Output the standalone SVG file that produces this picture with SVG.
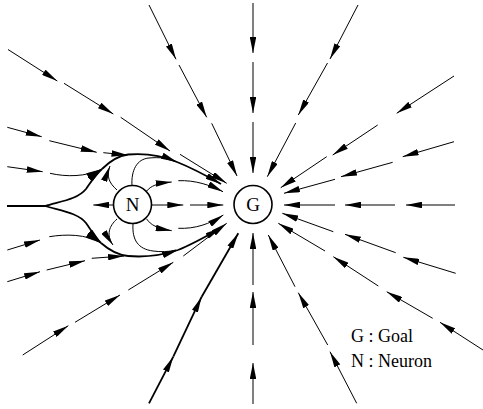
<svg xmlns="http://www.w3.org/2000/svg" width="483" height="409" viewBox="0 0 483 409">
<style>
.t{fill:none;stroke:#000;stroke-width:1;marker-end:url(#a)}
.n{fill:none;stroke:#000;stroke-width:1}
.k{fill:none;stroke:#000;stroke-width:1.8;marker-end:url(#a)}
.kn{fill:none;stroke:#000;stroke-width:1.8}
.c{fill:#fff;stroke:#000;stroke-width:1.6}
.lb{font-family:"Liberation Serif","Times New Roman",serif;font-size:19px;text-anchor:middle}
.lg{font-family:"Liberation Serif","Times New Roman",serif;font-size:18px}
</style>
<defs>
<marker id="a" markerUnits="userSpaceOnUse" viewBox="0 0 16 6.5" markerWidth="16" markerHeight="6.5" refX="16" refY="3.25" orient="auto">
<path d="M0,0 L16,3.25 L0,6.5 z" fill="#000"/>
</marker>
</defs>
<rect width="483" height="409" fill="#fff"/>
<g id="connectors">
<path class="t" d="M253,3 L253,53"/>
<path class="t" d="M253,62 L253,113"/>
<path class="t" d="M253,122 L253,173"/>
<path class="t" d="M358,5 L330,59"/>
<path class="t" d="M327.5,63 L298.3,115"/>
<path class="t" d="M295.7,123 L267.3,176.7"/>
<path class="t" d="M149,5 L176,59.3"/>
<path class="t" d="M179,65 L206.7,117.3"/>
<path class="t" d="M211.7,123.3 L237,176"/>
<path class="t" d="M8,49.5 L57.3,81"/>
<path class="t" d="M64,83.3 L113.3,114"/>
<path class="t" d="M120.7,117.3 L170,151"/>
<path class="t" d="M180,154.3 L226.7,183.3"/>
<path class="t" d="M454,76 L396.7,113.3"/>
<path class="t" d="M377.7,125 L332.7,155"/>
<path class="t" d="M326.7,156.7 L280.7,187.7"/>
<path class="t" d="M454,141.7 L402.7,156.7"/>
<path class="t" d="M392.7,162.3 L341,176.7"/>
<path class="t" d="M335,179.3 L284,193.3"/>
<path class="t" d="M455,205 L406,205"/>
<path class="t" d="M395,205 L345,205"/>
<path class="t" d="M335,205 L284,205"/>
<path class="t" d="M455.7,273.3 L403.3,257.3"/>
<path class="t" d="M395.7,252.7 L345,234.3"/>
<path class="t" d="M333.3,231.7 L282.3,213.3"/>
<path class="t" d="M483,350 L440,322.3"/>
<path class="t" d="M432.7,318.3 L386.7,291.7"/>
<path class="t" d="M378.3,286 L333.3,256.7"/>
<path class="t" d="M325,251 L278.3,223.3"/>
<path class="t" d="M356.7,403.3 L330,351.7"/>
<path class="t" d="M327.7,345 L298.3,292.7"/>
<path class="t" d="M295,286.7 L268.3,235"/>
<path class="t" d="M253,404 L253,363"/>
<path class="t" d="M253,345 L253,292"/>
<path class="t" d="M253,285 L253,233"/>
<path class="k" d="M149,403.3 L173.3,356.7"/>
<path class="k" d="M173.3,356.7 L201.7,296.7"/>
<path class="k" d="M201.7,296.7 L238.3,233.3"/>
<path class="t" d="M22.7,355 L68.3,325.7"/>
<path class="t" d="M75,322.3 L120,295"/>
<path class="t" d="M128.3,290 L173.3,262.3"/>
<path class="t" d="M183.3,256 L226.7,223.3"/>
<path class="kn" d="M7,206 L45,206"/>
<path class="k" d="M45,206 C62,201 78,199 86,189 C91,182 95,175 102,169"/>
<path class="kn" d="M102,169 C109,162 117,156 128,154.5"/>
<path class="k" d="M128,154.5 C145,153 163,156 177,162"/>
<path class="k" d="M177,162 C192,168 207,176 221,184"/>
<path class="k" d="M45,206 C62,211 78,213 86,223 C91,230 95,237 101,243"/>
<path class="kn" d="M101,243 C109,250 117,255 128,256"/>
<path class="k" d="M128,256 C145,257.5 163,255 178,250"/>
<path class="k" d="M178,250 C193,244 207,236 221,228"/>
<path class="t" d="M7.3,127.3 L41.7,136.7"/>
<path class="t" d="M49.3,140.7 L96.7,152.3"/>
<path class="t" d="M103.3,152.7 L127.5,155"/>
<path class="t" d="M7.3,166.7 L42.7,171.7"/>
<path class="t" d="M50,173.3 C66,177 86,177 102,169"/>
<path class="t" d="M7.3,250 L40,240"/>
<path class="t" d="M49.3,236.7 C66,234 86,234 101,243"/>
<path class="t" d="M7.3,281.7 L40,271.7"/>
<path class="t" d="M46.7,270 L85,260.7"/>
<path class="t" d="M91.7,258.3 L124,256"/>
<path class="t" d="M117,190 C109,183 106,176 110,166"/>
<path class="n" d="M132,186 C131,170 137,159 149,158 C160,157 168,158 177,162"/>
<path class="t" d="M146.7,191 C151,186 156,183.5 171.7,182"/>
<path class="t" d="M178.3,180.7 C195,180 210,185 223,191.7"/>
<path class="t" d="M151,205 L183.3,205"/>
<path class="t" d="M190,205 L223.3,205"/>
<path class="t" d="M114,205 L93.3,205"/>
<path class="t" d="M146.7,219 C151,225 156,228 171.7,230.7"/>
<path class="t" d="M178.3,228.3 C195,229 210,224 223.3,215"/>
<path class="n" d="M133,224 C132,240 138,249 153,251 C161,252 168,252 176,250"/>
<path class="t" d="M117,219 C109,226 106,235 113,245"/>
</g>
<g id="N">
<circle class="c" cx="132.5" cy="204.5" r="19"/>
<text class="lb" x="132.5" y="211">N</text>
</g>
<g id="G">
<circle class="c" cx="253" cy="204.5" r="19"/>
<text class="lb" x="253" y="211">G</text>
</g>
<g id="legend">
<text class="lg" x="351" y="342">G : Goal</text>
<text class="lg" x="351" y="367">N : Neuron</text>
</g>
</svg>
